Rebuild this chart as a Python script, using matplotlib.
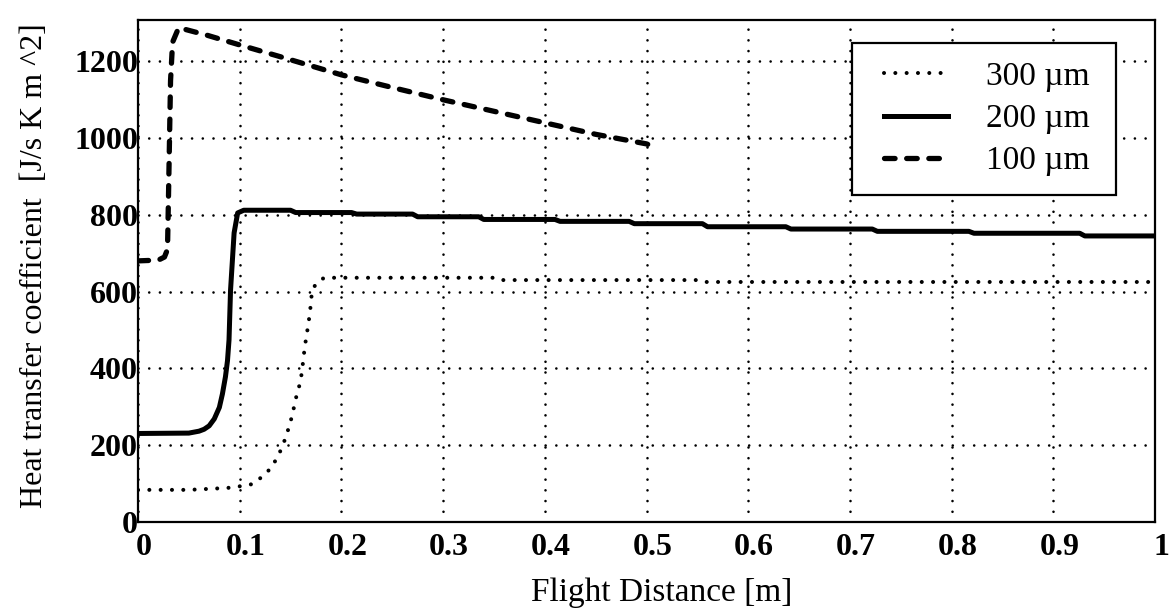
import matplotlib
matplotlib.use("Agg")
import matplotlib.pyplot as plt
from matplotlib.legend_handler import HandlerLine2D
import matplotlib.transforms as mtransforms

# ---------------- data ----------------
x_300 = [0.0, 0.05, 0.088, 0.102, 0.1125, 0.123, 0.1315, 0.139, 0.1446, 0.148,
         0.151, 0.1535, 0.156, 0.159, 0.161, 0.164, 0.1666, 0.169, 0.1706, 0.172,
         0.1755, 0.183, 0.35, 0.355, 0.55, 0.555, 1.0]
h_300 = [83, 83, 88, 93, 98, 119, 142, 178, 215, 243,
         271, 300, 330, 358, 387, 456, 500, 543, 587, 607,
         622, 636, 636, 630, 630, 625, 625]

x_200 = [0.0, 0.05, 0.06, 0.065, 0.07, 0.075, 0.08, 0.083, 0.086, 0.088, 0.0895,
         0.091, 0.0945, 0.098, 0.104,
         0.15, 0.155, 0.21, 0.215, 0.27, 0.275, 0.335, 0.34, 0.41, 0.415,
         0.483, 0.488, 0.555, 0.56, 0.637, 0.642, 0.722, 0.727, 0.817, 0.822,
         0.926, 0.931, 1.0]
h_200 = [230, 231, 236, 241, 250, 268, 298, 333, 378, 420, 474,
         604, 753, 805, 812,
         812, 806, 806, 802, 802, 795, 795, 788, 788, 783,
         783, 777, 777, 769, 769, 763, 763, 757, 757, 752,
         752, 745, 745]

x_100 = [0.0, 0.02, 0.026, 0.029, 0.030, 0.031, 0.032, 0.034, 0.040, 0.067,
         0.1, 0.139, 0.2, 0.25, 0.3, 0.35, 0.4, 0.45, 0.5, 0.505]
h_100 = [680, 682, 690, 710, 850, 1000, 1150, 1250, 1288, 1269,
         1243, 1213, 1165, 1132, 1100, 1070, 1040, 1010, 985, 980]

labels = ["300 \u00b5m", "200 \u00b5m", "100 \u00b5m"]
x_ticks = [0, 0.1, 0.2, 0.3, 0.4, 0.5, 0.6, 0.7, 0.8, 0.9, 1.0]
x_tick_labels = ["0", "0.1", "0.2", "0.3", "0.4", "0.5", "0.6", "0.7", "0.8", "0.9", "1"]
y_ticks = [0, 200, 400, 600, 800, 1000, 1200]
y_tick_labels = ["0", "200", "400", "600", "800", "1000", "1200"]

# ---------------- figure ----------------
plt.rcParams['font.family'] = ['Liberation Serif', 'DejaVu Serif']
W, H = 1174, 612
fig = plt.figure(figsize=(W / 100, H / 100), dpi=100)
ax = fig.add_axes([138 / W, 1 - 521.7 / H, 1017 / W, 501.7 / H])

ax.plot(x_300, h_300, color='black', lw=2.9, linestyle=(0, (0.01, 2.8)),
        dash_capstyle='round', label=labels[0])
ax.plot(x_200, h_200, color='black', lw=3.6, linestyle='-',
        solid_joinstyle='round', label=labels[1])
ax.plot(x_100, h_100, color='black', lw=3.8, linestyle=(0, (2.0, 2.2)),
        dash_capstyle='round', label=labels[2])

ax.set_xlim(0, 1)
ax.set_ylim(0, 1308)
ax.set_xticks(x_ticks)
ax.set_xticklabels(x_tick_labels, fontsize=23, fontweight='bold')
ax.set_yticks(y_ticks)
ax.set_yticklabels(y_tick_labels, fontsize=23, fontweight='bold')
ax.tick_params(axis='both', length=0)
ax.tick_params(axis='x', pad=8)
ax.tick_params(axis='y', pad=0)

offset = mtransforms.ScaledTranslation(6 / 100, 0, fig.dpi_scale_trans)
for lab in ax.get_xticklabels():
    lab.set_transform(lab.get_transform() + offset)

ax.grid(True, color='black', linewidth=1.9, linestyle=(0, (0.01, 4.05)))
for gl in ax.get_xgridlines() + ax.get_ygridlines():
    gl.set_dash_capstyle('round')

for sp in ax.spines.values():
    sp.set_linewidth(1.6)
    sp.set_color('black')

ax.set_xlabel("Flight Distance [m]", fontsize=24)
ax.set_ylabel("Heat transfer coefficient  [J/s K m ^2]", fontsize=23)
ax.xaxis.set_label_coords(0.515, -0.112)
ax.yaxis.set_label_coords(-0.088, 0.51)

hmap = {h: HandlerLine2D(xpad=0.4) for h in ax.get_lines()}
leg = ax.legend(loc='upper right', bbox_to_anchor=(0.962, 0.9535),
                fontsize=24, frameon=True, fancybox=False, framealpha=1,
                edgecolor='black', borderpad=0.55, labelspacing=0.35,
                handlelength=2.32, handletextpad=1.14, borderaxespad=0,
                handler_map=hmap)
leg.get_frame().set_linewidth(1.6)
for t in leg.get_texts():
    t.set_text(t.get_text() + "\u00a0")

fig.savefig("out.png", dpi=100)
